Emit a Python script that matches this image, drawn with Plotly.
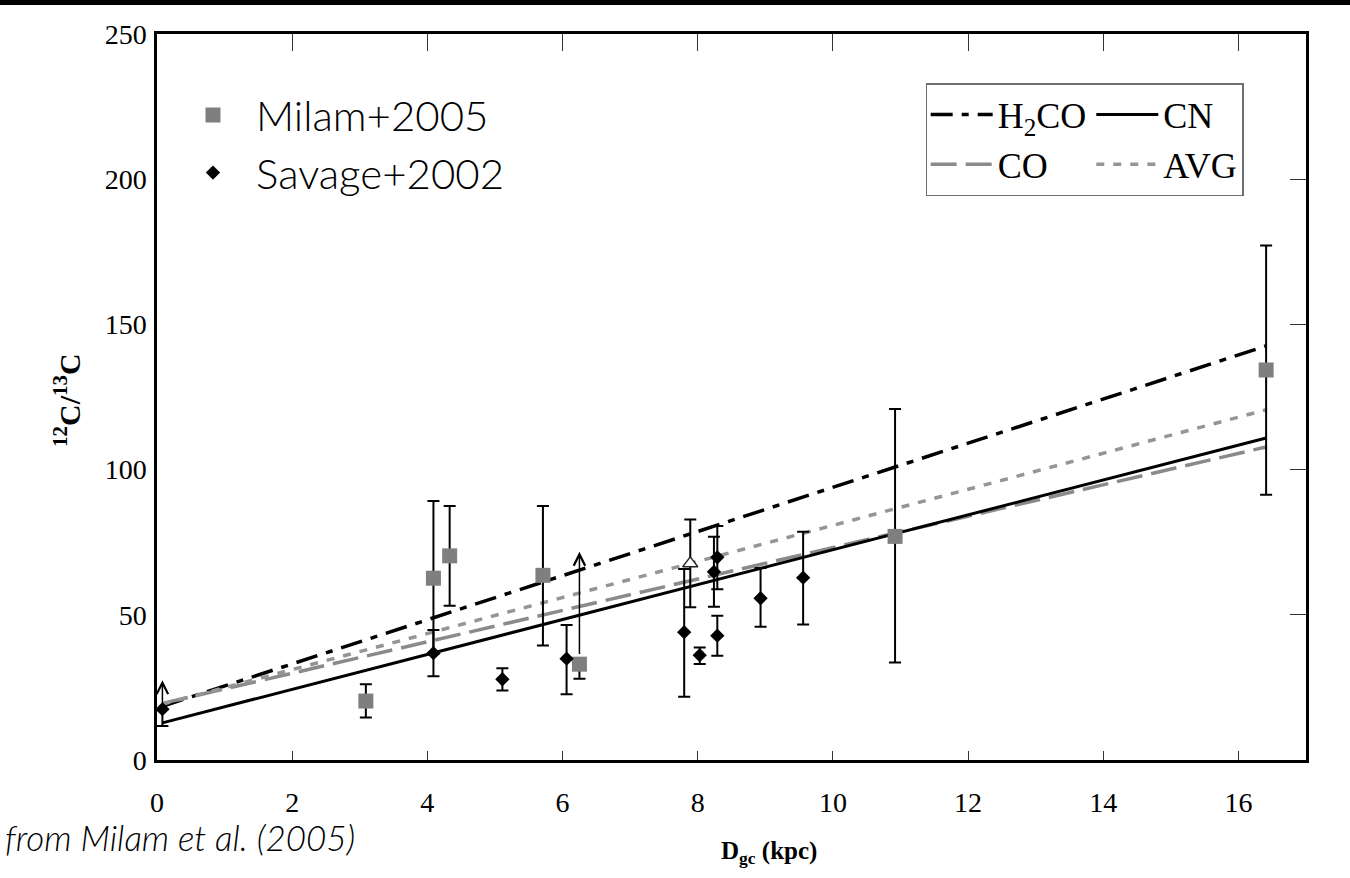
import plotly.graph_objects as go

# Milam et al. (2005) isotope ratios (gray squares)
milam_d = [3.09, 4.09, 4.33, 5.71, 6.25, 10.92, 16.41]
milam_r = [20.3, 62.6, 70.3, 63.6, 33.0, 77.0, 134.3]
milam_err_plus = [5.8, 26.6, 17.2, 23.9, 0.0, 43.9, 42.9]
milam_err_minus = [5.7, 26.0, 17.2, 24.2, 5.0, 43.4, 43.0]

# Savage et al. (2002) isotope ratios (black diamonds)
savage_d = [0.08, 4.09, 5.11, 6.06, 7.80, 8.03, 8.24, 8.29, 8.29, 8.93, 9.56]
savage_r = [17.5, 36.8, 27.8, 34.9, 44.0, 36.1, 64.8, 69.8, 42.8, 55.7, 62.8]
savage_err_plus = [0.0, 8.0, 3.8, 11.6, 21.8, 2.6, 12.1, 10.8, 6.9, 10.4, 15.8]
savage_err_minus = [5.8, 8.0, 3.9, 12.3, 22.2, 3.0, 12.0, 11.0, 6.9, 9.8, 16.1]

# Open triangle point
tri_d = [7.89]
tri_r = [67.7]
tri_err = [15.1]

# Lower-limit arrows: position, tail value, head value
limit_d = [0.08, 6.25]
limit_from = [17.5, 36.0]
limit_to = [27.5, 71.7]

# Linear gradient fits, endpoints at the innermost and outermost source
fit_d = [0.08, 16.41]
fit_h2co = [18.5, 142.6]
fit_cn = [12.8, 110.9]
fit_co = [19.5, 107.8]
fit_avg = [19.2, 120.6]

x_ticks = [0, 2, 4, 6, 8, 10, 12, 14, 16]
y_ticks = [0, 50, 100, 150, 200, 250]

SERIF = "Liberation Serif, Times New Roman, serif"
SANS = "Lato, Noto Sans, sans-serif"

fig = go.Figure()

fit_styles = [
    ("H<sub>2</sub>CO", fit_h2co, "#000000", "22px,9px,7px,9px", 3.5, "g1"),
    ("CO", fit_co, "#8a8a8a", "26px,9px", 3.5, "g1"),
    ("CN", fit_cn, "#000000", "solid", 3.0, "g2"),
    ("AVG", fit_avg, "#959595", "8px,9px", 3.5, "g2"),
]
for name, vals, color, dash, width, grp in fit_styles:
    fig.add_trace(go.Scatter(
        x=fit_d, y=vals, mode="lines", name=name, legendgroup=grp,
        line=dict(color=color, width=width, dash=dash), legend="legend",
    ))

fig.add_trace(go.Scatter(
    x=milam_d, y=milam_r, mode="markers", name="Milam+2005",
    marker=dict(symbol="square", size=15, color="#7f7f7f"),
    error_y=dict(type="data", symmetric=False, array=milam_err_plus,
                 arrayminus=milam_err_minus, color="#000000", thickness=2, width=6),
    legend="legend2",
))
fig.add_trace(go.Scatter(
    x=savage_d, y=savage_r, mode="markers", name="Savage+2002",
    marker=dict(symbol="diamond", size=11, color="#000000"),
    error_y=dict(type="data", symmetric=False, array=savage_err_plus,
                 arrayminus=savage_err_minus, color="#000000", thickness=2, width=6),
    legend="legend2",
))
fig.add_trace(go.Scatter(
    x=tri_d, y=tri_r, mode="markers", showlegend=False,
    marker=dict(symbol="triangle-up", size=13, color="#ffffff",
                line=dict(color="#222222", width=1.5)),
    error_y=dict(type="data", array=tri_err, color="#000000", thickness=2, width=6),
))
# frame axes on top and right
fig.add_trace(go.Scatter(x=[], y=[], xaxis="x2", yaxis="y2", showlegend=False))

for d, y0, y1 in zip(limit_d, limit_from, limit_to):
    fig.add_annotation(
        x=d, y=y1, ax=d, ay=y0, xref="x", yref="y", axref="x", ayref="y",
        text="", showarrow=True, arrowhead=5, arrowsize=1.5, arrowwidth=1.5,
        arrowcolor="#000000",
    )

fig.add_annotation(
    x=0.533, y=-0.128, xref="paper", yref="paper",
    xanchor="center", yanchor="middle",
    text="<b>D<sub>gc</sub> (kpc)</b>", showarrow=False,
    font=dict(family=SERIF, size=25, color="#000000"),
)
fig.add_annotation(
    x=-0.0783, y=0.496, xref="paper", yref="paper", textangle=-90,
    xanchor="center", yanchor="middle",
    text="<b><sup>12</sup>C/<sup>13</sup>C</b>", showarrow=False,
    font=dict(family=SERIF, size=30, color="#000000"),
)
fig.add_annotation(
    x=-0.134, y=-0.106, xref="paper", yref="paper",
    xanchor="left", yanchor="middle",
    text="<i>from Milam et al. (2005)</i>", showarrow=False,
    font=dict(family=SANS, size=35, color="#000000", weight=300),
)

# black band along the top edge
fig.add_shape(type="rect", xref="paper", yref="paper",
              x0=-0.14, x1=1.04, y0=1.040, y1=1.05,
              fillcolor="#000000", line=dict(width=0))

axis_common = dict(showgrid=False, zeroline=False, showline=True,
                   linecolor="#000000", linewidth=2.5)
fig.update_layout(
    width=1350, height=878,
    margin=dict(l=157, r=44, t=34, b=118),
    paper_bgcolor="#ffffff", plot_bgcolor="#ffffff",
    xaxis=dict(range=[0, 17], tickvals=x_ticks, ticks="inside", ticklen=9,
               tickwidth=1.2, tickcolor="#333333", ticklabelstandoff=16,
               tickfont=dict(family=SERIF, size=28, color="#000000"), **axis_common),
    xaxis2=dict(range=[0, 17], tickvals=x_ticks, overlaying="x", side="top",
                anchor="y", ticks="inside", ticklen=17, tickwidth=1.2,
                tickcolor="#333333", showticklabels=False, **axis_common),
    yaxis=dict(range=[0, 250], tickvals=y_ticks, ticks="",
               ticklabelstandoff=2,
               tickfont=dict(family=SERIF, size=28, color="#000000"), **axis_common),
    yaxis2=dict(range=[0, 250], tickvals=y_ticks, overlaying="y", side="right",
                anchor="x", ticks="inside", ticklen=16, tickwidth=1.2,
                tickcolor="#333333", showticklabels=False, **axis_common),
    legend=dict(
        orientation="h", traceorder="grouped", x=0.669, y=0.9325,
        xanchor="left", yanchor="top", bgcolor="#ffffff",
        bordercolor="#6e6e6e", borderwidth=1.5, itemwidth=62,
        tracegroupgap=30, itemclick=False, itemdoubleclick=False,
        font=dict(family=SERIF, size=36, color="#000000"),
    ),
    legend2=dict(
        orientation="v", x=0.0113, y=0.935, xanchor="left", yanchor="top",
        bgcolor="rgba(0,0,0,0)", borderwidth=0, itemwidth=76,
        font=dict(family=SANS, size=42, color="#000000", weight=300),
        tracegroupgap=0,
    ),
    showlegend=True,
)

fig.write_html("out.html")
